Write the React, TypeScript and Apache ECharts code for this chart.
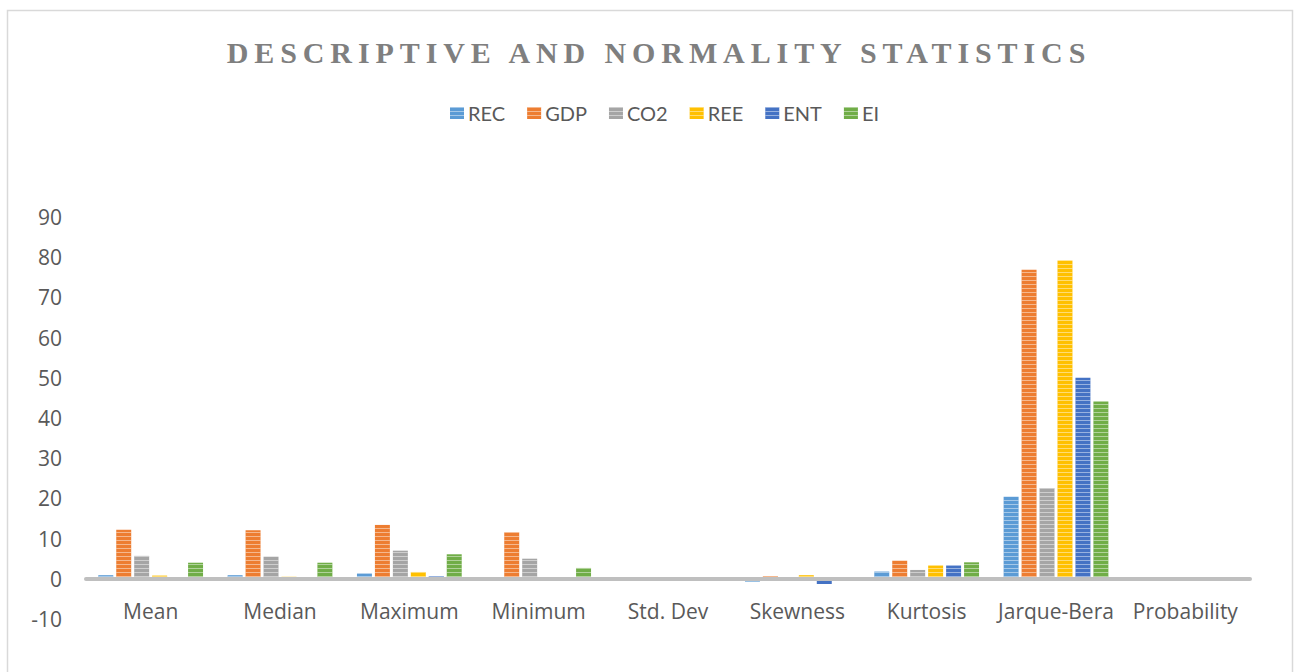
import React, { useEffect, useRef } from "react";
import * as echarts from "echarts";

const TITLE = "DESCRIPTIVE AND NORMALITY STATISTICS";
const categories = ["Mean", "Median", "Maximum", "Minimum", "Std. Dev", "Skewness", "Kurtosis", "Jarque-Bera", "Probability"];
const seriesNames = ["REC", "GDP", "CO2", "REE", "ENT", "EI"];
const REC = [0.9, 0.9, 1.3, 0.2, 0.3, -0.7, 1.8, 20.4, 0.0];
const GDP = [12.2, 12.1, 13.4, 11.6, 0.4, 0.7, 4.5, 76.9, 0.0];
const CO2 = [5.7, 5.5, 7.0, 5.0, 0.3, 0.1, 2.2, 22.6, 0.0];
const REE = [0.8, 0.5, 1.7, 0.3, 0.3, 0.9, 3.3, 79.2, 0.0];
const ENT = [0.1, 0.1, 0.7, 0.05, 0.2, -1.3, 3.3, 50.0, 0.0];
const EI = [4.0, 4.0, 6.1, 2.7, 0.3, 0.3, 4.1, 44.1, 0.0];
const seriesData = [REC, GDP, CO2, REE, ENT, EI];
const colors = ["#5B9BD5", "#ED7D31", "#A5A5A5", "#FFC000", "#4472C4", "#70AD47"];
const yTicks = { min: -10, max: 90, interval: 10 };

export default function App() {
  const ref = useRef<HTMLDivElement>(null);
  useEffect(() => {
    if (!ref.current) return;
    const chart = echarts.init(ref.current, null, { renderer: "svg" });
    const labelFont = "'Open Sans', Lato, sans-serif";
    const legendFont = "Lato, 'Open Sans', sans-serif";
    chart.setOption({
      animation: false,
      backgroundColor: "#ffffff",
      color: colors,
      graphic: [
        {
          type: "rect",
          shape: { x: 7.5, y: 10.5, width: 1285, height: 700 },
          style: { fill: "none", stroke: "#d9d9d9", lineWidth: 1.5 },
          silent: true,
        },
        {
          type: "text",
          x: 659,
          y: 52,
          style: {
            text: TITLE,
            fontFamily: "'Liberation Serif', 'DejaVu Serif', serif",
            fontWeight: "bold",
            fontSize: 30,
            fill: "#7f7f7f",
            textAlign: "center",
            textVerticalAlign: "middle",
          },
        },
      ],
      legend: {
        data: seriesNames,
        left: 445,
        top: 98,
        itemWidth: 14,
        itemHeight: 12,
        itemGap: 22,
        icon: "rect",
        textStyle: { color: "#595959", fontSize: 20, fontFamily: legendFont, padding: [0, 0, 0, -1] },
      },
      grid: { left: 86, right: 44, top: 217, bottom: 53, containLabel: false },
      xAxis: {
        type: "category",
        data: categories,
        z: 3,
        axisLine: { onZero: true, lineStyle: { color: "#bfbfbf", width: 4 } },
        axisTick: { show: false },
        axisLabel: { color: "#595959", fontSize: 21, fontFamily: labelFont, margin: -19, interval: 0 },
        splitLine: { show: false },
      },
      yAxis: {
        type: "value",
        min: yTicks.min,
        max: yTicks.max,
        interval: yTicks.interval,
        axisLine: { show: false },
        axisTick: { show: false },
        splitLine: { show: false },
        axisLabel: { color: "#595959", fontSize: 21, fontFamily: labelFont, margin: 24 },
      },
      series: seriesNames.map((name, i) => ({
        name,
        type: "bar",
        data: seriesData[i],
        barGap: "20%",
        barCategoryGap: "19%",
        itemStyle: {
          color: colors[i],
          decal: {
            symbol: "rect",
            symbolSize: 1,
            dashArrayX: [1, 0],
            dashArrayY: [1, 3],
            rotation: 0,
            color: "rgba(255,255,255,0.45)",
          },
        },
      })),
    });
    const texts = ref.current.querySelectorAll("text");
    texts.forEach((t) => {
      if (t.textContent === TITLE) t.setAttribute("letter-spacing", "5.9");
    });
    return () => chart.dispose();
  }, []);
  return <div ref={ref} style={{ position: "fixed", left: 0, top: 0, width: 1294, height: 672 }} />;
}
